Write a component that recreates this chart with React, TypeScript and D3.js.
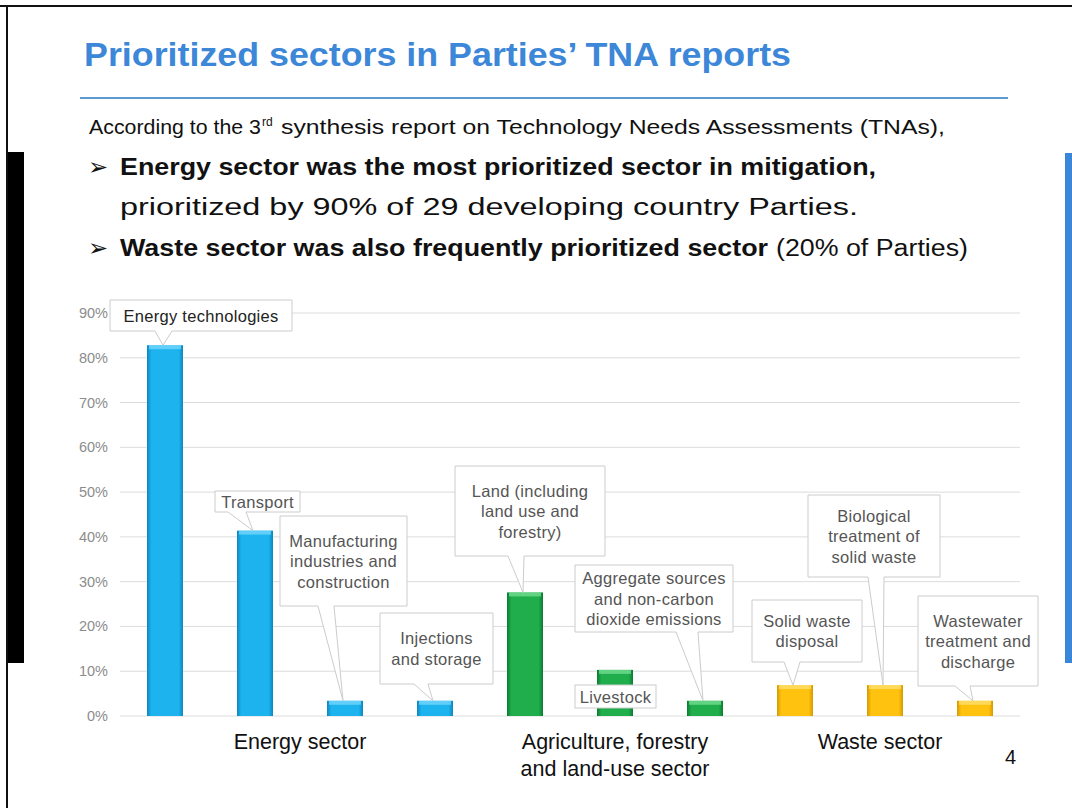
import React from "react";
import * as d3 from "d3";

const categories = [
  "Energy technologies",
  "Transport",
  "Manufacturing industries and construction",
  "Injections and storage",
  "Land (including land use and forestry)",
  "Livestock",
  "Aggregate sources and non-carbon dioxide emissions",
  "Solid waste disposal",
  "Biological treatment of solid waste",
  "Wastewater treatment and discharge",
];
const values = [82.8, 41.4, 3.4, 3.4, 27.6, 10.3, 3.4, 6.9, 6.9, 3.4];
const sectorOf = [0, 0, 0, 0, 1, 1, 1, 2, 2, 2];
const sectorLabels = [["Energy sector"], ["Agriculture, forestry", "and land-use sector"], ["Waste sector"]];
const yTicks = [0, 10, 20, 30, 40, 50, 60, 70, 80, 90];
const calloutLines = [
  ["Energy technologies"],
  ["Transport"],
  ["Manufacturing", "industries and", "construction"],
  ["Injections", "and storage"],
  ["Land (including", "land use and", "forestry)"],
  ["Livestock"],
  ["Aggregate sources", "and non-carbon", "dioxide emissions"],
  ["Solid waste", "disposal"],
  ["Biological", "treatment of", "solid waste"],
  ["Wastewater", "treatment and", "discharge"],
];

// callout box layout: [x0, y0, x1, y1, pointer base left, pointer base right] (null pointer = none)
const calloutBoxes: [number, number, number, number, number | null, number | null][] = [
  [110, 300, 292, 331, 155, 172],
  [215, 491, 300, 512, 228, 246],
  [280, 516, 407, 606, 318, 334],
  [380, 613, 493, 684, 414, 428],
  [455, 466, 605, 556, 508, 524],
  [575, 685, 656, 708, null, null],
  [575, 565, 733, 632, 676, 698],
  [752, 600, 862, 662, 784, 800],
  [808, 495, 940, 577, 868, 884],
  [918, 596, 1038, 686, 955, 970],
];

const palettes = [
  { dark: "#0b86bd", main: "#1cb3ee", light: "#7fdcff" },
  { dark: "#0b7a32", main: "#1fae4b", light: "#7fe39a" },
  { dark: "#d49a00", main: "#ffc20e", light: "#ffe27a" },
];

const FONT = "'Liberation Sans', Arial, sans-serif";

export default function App() {
  const x = d3.scaleBand<number>().domain(d3.range(categories.length)).range([120, 1020]).paddingInner(0.6).paddingOuter(0.3);
  const y = d3.scaleLinear().domain([0, 90]).range([716, 313]);
  const bw = x.bandwidth();

  return (
    <svg width={1072} height={808} style={{ position: "absolute", left: 0, top: 0, background: "#fff" }} fontFamily={FONT}>
      <defs>
        {palettes.map((p, i) => (
          <linearGradient key={i} id={`g${i}`} x1="0" x2="1" y1="0" y2="0">
            <stop offset="0" stopColor={p.dark} />
            <stop offset="0.12" stopColor={p.main} />
            <stop offset="0.88" stopColor={p.main} />
            <stop offset="1" stopColor={p.dark} />
          </linearGradient>
        ))}
      </defs>
      <rect x={0} y={0} width={1072} height={808} fill="#fff" />
      {/* frame */}
      <line x1={0} x2={1072} y1={6} y2={6} stroke="#111" strokeWidth={2} />
      <line x1={7} x2={7} y1={5} y2={808} stroke="#111" strokeWidth={2} />
      <rect x={8} y={152} width={16} height={511} fill="#000" />
      <rect x={1065} y={153} width={7} height={510} fill="#3a86d8" />

      {/* title */}
      <text x={84} y={66} fontSize={34} fontWeight="bold" fill="#3d87d8" textLength={707} lengthAdjust="spacingAndGlyphs">
        Prioritized sectors in Parties’ TNA reports
      </text>
      <line x1={80} x2={1008} y1={98} y2={98} stroke="#5b9bd5" strokeWidth={2} />

      <text x={89} y={134} fontSize={21} fill="#111" textLength={172} lengthAdjust="spacingAndGlyphs">According to the 3</text>
      <text x={262} y={126} fontSize={12} fill="#111">rd</text>
      <text x={281} y={134} fontSize={21} fill="#111" textLength={664} lengthAdjust="spacingAndGlyphs">synthesis report on Technology Needs Assessments (TNAs),</text>

      <text x={88} y={175} fontSize={24} fill="#111" fontFamily="'DejaVu Sans'">➢</text>
      <text x={120} y={175} fontSize={23} fontWeight="bold" fill="#111" textLength={756} lengthAdjust="spacingAndGlyphs">Energy sector was the most prioritized sector in mitigation,</text>
      <text x={120} y={215} fontSize={23} fill="#111" textLength={738} lengthAdjust="spacingAndGlyphs">prioritized by 90% of 29 developing country Parties.</text>
      <text x={88} y={256} fontSize={24} fill="#111" fontFamily="'DejaVu Sans'">➢</text>
      <text x={120} y={256} fontSize={23} fontWeight="bold" fill="#111" textLength={648} lengthAdjust="spacingAndGlyphs">Waste sector was also frequently prioritized sector</text>
      <text x={776} y={256} fontSize={23} fill="#111" textLength={192} lengthAdjust="spacingAndGlyphs">(20% of Parties)</text>

      {/* grid & y axis */}
      {yTicks.map((t) => (
        <g key={t}>
          <line x1={120} x2={1020} y1={y(t)} y2={y(t)} stroke="#dcdcdc" strokeWidth={1} />
          <text x={108} y={y(t) + 5} fontSize={14.5} fill="#8c8c8c" textAnchor="end">{t}%</text>
        </g>
      ))}

      {/* bars */}
      {values.map((v, i) => {
        const p = palettes[sectorOf[i]];
        const x0 = x(i)!;
        const top = y(v);
        return (
          <g key={i}>
            <rect x={x0} y={top} width={bw} height={y(0) - top} fill={`url(#g${sectorOf[i]})`} />
            <rect x={x0 + 2} y={top} width={bw - 4} height={Math.min(4, y(0) - top)} fill={p.light} opacity={0.7} />
          </g>
        );
      })}

      {/* callouts */}
      {calloutBoxes.map((b, i) => {
        const [x0, y0, x1, y1, pl, pr] = b;
        const cx = x(i)! + bw / 2;
        const tip = y(values[i]);
        const lines = calloutLines[i];
        const mid = (x0 + x1) / 2;
        const lh = 20.5;
        const totalH = (lines.length - 1) * lh;
        const startY = (y0 + y1) / 2 - totalH / 2 + 6;
        return (
          <g key={i}>
            {pl !== null && pr !== null ? (
              <path
                d={`M${x0},${y0}H${x1}V${y1}H${pr}L${cx - 2},${tip}L${pl},${y1}H${x0}Z`}
                fill="#fff"
                stroke="#cccccc"
                strokeWidth={1}
              />
            ) : (
              <rect x={x0} y={y0} width={x1 - x0} height={y1 - y0} fill="#fff" stroke="#cccccc" strokeWidth={1} />
            )}
            {lines.map((l, k) => (
              <text
                key={k}
                x={mid}
                y={startY + k * lh}
                fontSize={16.5}
                letterSpacing={0.3}
                fill={i === 0 ? "#222" : "#555"}
                textAnchor="middle"
              >
                {l}
              </text>
            ))}
          </g>
        );
      })}

      {/* sector labels */}
      {sectorLabels.map((lines, s) => {
        const idx = sectorOf.map((g, i) => (g === s ? i : -1)).filter((i) => i >= 0);
        const cx = (x(idx[0])! + x(idx[idx.length - 1])! + bw) / 2 - (s === 2 ? 5 : 0);
        return lines.map((l, k) => (
          <text key={`${s}-${k}`} x={cx} y={749 + k * 27} fontSize={21.5} fill="#111" textAnchor="middle">
            {l}
          </text>
        ));
      })}
      <text x={1005} y={764} fontSize={20} fill="#111">4</text>
    </svg>
  );
}
